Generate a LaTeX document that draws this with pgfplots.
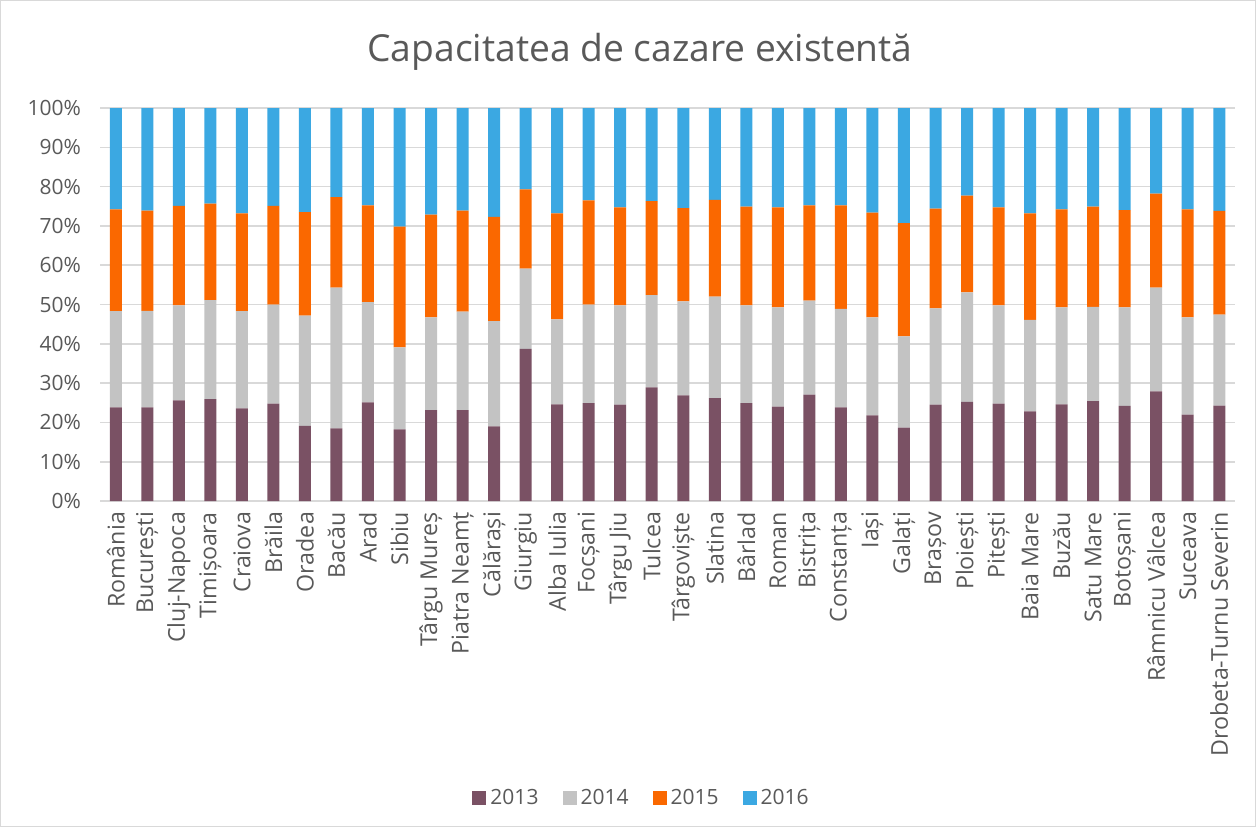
\documentclass[border=0pt]{standalone}
\usepackage{fontspec}
\setmainfont{Open Sans}
\usepackage{pgfplots}
\usepackage{pgfplotstable}
\pgfplotsset{compat=1.18}
\definecolor{cA}{HTML}{7A5164}
\definecolor{cB}{HTML}{C3C3C3}
\definecolor{cC}{HTML}{FA6800}
\definecolor{cD}{HTML}{3BA8E2}
\definecolor{txt}{HTML}{595959}
\definecolor{grd}{HTML}{D9D9D9}
\pgfplotstableread{
x a b c d
0 23.8 24.5 25.9 25.8
1 23.8 24.6 25.5 26.1
2 25.6 24.2 25.3 24.9
3 25.9 25.2 24.6 24.3
4 23.6 24.7 24.9 26.8
5 24.8 25.2 25.1 24.9
6 19.1 28.1 26.3 26.5
7 18.5 35.8 23.0 22.7
8 25.1 25.5 24.6 24.8
9 18.2 20.9 30.7 30.2
10 23.1 23.6 26.2 27.1
11 23.1 25.1 25.7 26.1
12 19.0 26.8 26.5 27.7
13 38.7 20.4 20.2 20.7
14 24.6 21.6 27.0 26.8
15 24.9 25.1 26.5 23.5
16 24.5 25.3 24.9 25.3
17 28.9 23.5 23.9 23.7
18 26.9 23.9 23.7 25.5
19 26.2 25.8 24.6 23.4
20 24.9 24.9 25.1 25.1
21 24.0 25.3 25.4 25.3
22 27.1 23.9 24.2 24.8
23 23.8 25.1 26.3 24.8
24 21.8 24.9 26.7 26.6
25 18.7 23.2 28.8 29.3
26 24.5 24.5 25.4 25.6
27 25.2 27.9 24.6 22.3
28 24.8 25.0 24.9 25.3
29 22.8 23.3 27.1 26.8
30 24.6 24.7 24.9 25.8
31 25.4 24.0 25.5 25.1
32 24.2 25.1 24.7 26.0
33 27.9 26.4 23.9 21.8
34 22.0 24.7 27.5 25.8
35 24.3 23.1 26.4 26.2
}\data
\begin{document}
\begin{tikzpicture}
\path[use as bounding box] (-50pt,-163pt) rectangle (578pt,250.5pt);
\draw[grd, line width=0.6pt] (-49.6pt,-162.6pt) rectangle (577.6pt,250.1pt);
\node[font=\fontsize{18.6}{22}\selectfont, text=txt] at (270pt,224.5pt) {Capacitatea de cazare existentă};
\begin{axis}[
  at={(0,0)}, anchor=south west,
  scale only axis, width=567.5pt, height=196.5pt,
  ybar stacked, bar width=6pt,
  ymin=0, ymax=100, xmin=-0.5, xmax=35.5,
  ytick={0,10,...,100},
  yticklabel={\pgfmathprintnumber{\tick}\%},
  xtick={0,...,35},
  xticklabels={România,București,Cluj-Napoca,Timișoara,Craiova,Brăila,Oradea,Bacău,Arad,Sibiu,Târgu Mureș,Piatra Neamț,Călărași,Giurgiu,Alba Iulia,Focșani,Târgu Jiu,Tulcea,Târgoviște,Slatina,Bârlad,Roman,Bistrița,Constanța,Iași,Galați,Brașov,Ploiești,Pitești,Baia Mare,Buzău,Satu Mare,Botoșani,Râmnicu Vâlcea,Suceava,Drobeta-Turnu Severin},
  /pgf/number format/assume math mode=true,
  ticklabel style={font=\fontsize{10.5}{12}\selectfont, text=txt},
  xticklabel style={font=\fontsize{11.6}{13}\selectfont, rotate=90, anchor=east, xshift=-2pt},
  yticklabel style={xshift=-6pt},
  axis line style={draw=none},
  tick style={draw=none},
  ymajorgrids, grid style={draw=grd, line width=0.8pt},
  legend columns=4,
  legend style={at={(0.478,-0.756)}, anchor=center, draw=none, fill=none,
    font=\fontsize{10.5}{12}\selectfont, text=txt,
    /tikz/every even column/.append style={column sep=10pt}},
]
\addplot[fill=cA, draw=none, legend image code/.code={\fill[cA] (0pt,-3.5pt) rectangle (7pt,3.5pt);}] table[x=x,y=a]{\data};
\addplot[fill=cB, draw=none, legend image code/.code={\fill[cB] (0pt,-3.5pt) rectangle (7pt,3.5pt);}] table[x=x,y=b]{\data};
\addplot[fill=cC, draw=none, legend image code/.code={\fill[cC] (0pt,-3.5pt) rectangle (7pt,3.5pt);}] table[x=x,y=c]{\data};
\addplot[fill=cD, draw=none, legend image code/.code={\fill[cD] (0pt,-3.5pt) rectangle (7pt,3.5pt);}] table[x=x,y=d]{\data};
\legend{2013,2014,2015,2016}
\end{axis}
\end{tikzpicture}
\end{document}
